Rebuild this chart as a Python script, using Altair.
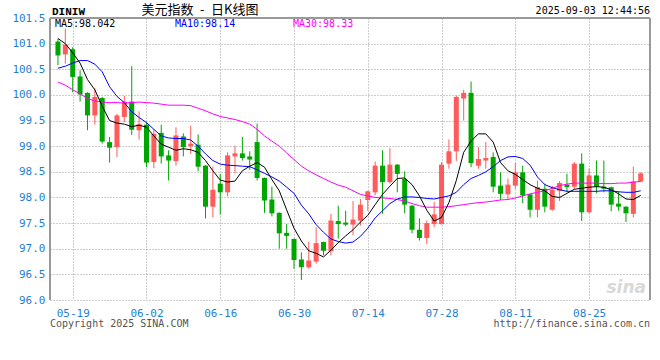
import altair as alt
import pandas as pd

# ---- data (DINIW daily, 2025-05-15 .. 2025-09-03) ----
opens = [101.04, 100.79, 100.89, 100.36, 100.04, 99.60, 99.94, 99.08, 98.98, 99.57,
         99.87, 99.31, 99.42, 98.69, 99.26, 98.82, 98.71, 99.19, 99.00, 99.03,
         98.62, 97.82, 98.27, 98.10, 98.80, 98.86, 98.80, 99.08, 98.38, 97.96,
         97.70, 97.31, 97.19, 96.79, 96.64, 96.75, 97.13, 96.95, 97.54, 97.51,
         97.47, 97.55, 97.95, 98.10, 98.62, 98.30, 98.64, 98.36, 97.84, 97.37,
         97.21, 97.48, 97.48, 98.66, 98.90, 99.93, 100.04, 98.62, 98.72, 98.79,
         98.23, 98.06, 98.23, 98.49, 98.06, 97.76, 98.17, 97.76, 98.13, 98.25,
         98.21, 98.66, 97.71, 98.43, 98.21, 98.20, 97.88, 97.82, 97.68, 98.31]
highs = [101.10, 101.29, 100.93, 100.48, 100.05, 100.13, 99.96, 99.18, 99.63, 99.98,
         100.56, 99.68, 99.47, 99.33, 99.42, 98.92, 99.37, 99.25, 99.40, 99.23,
         98.63, 98.60, 98.46, 98.88, 99.01, 99.18, 98.90, 99.44, 98.39, 98.21,
         97.71, 97.48, 97.20, 96.93, 97.14, 97.42, 97.14, 97.68, 97.84, 97.74,
         97.93, 97.97, 98.13, 98.70, 98.92, 98.96, 98.65, 98.51, 97.85, 97.59,
         97.55, 97.91, 98.69, 99.13, 99.99, 100.10, 100.26, 98.98, 99.08, 98.88,
         98.49, 98.37, 98.67, 98.62, 98.07, 98.33, 98.27, 98.23, 98.32, 98.46,
         98.69, 98.86, 98.56, 98.72, 98.72, 98.21, 98.12, 97.83, 98.60, 98.49]
lows = [100.58, 100.61, 100.05, 99.87, 99.31, 99.42, 99.05, 98.68, 98.79, 99.47,
        99.22, 99.13, 98.59, 98.57, 98.66, 98.33, 98.62, 98.80, 98.85, 98.51,
        97.59, 97.61, 97.67, 98.02, 98.47, 98.72, 98.54, 98.33, 97.70, 97.63,
        97.00, 97.00, 96.61, 96.39, 96.61, 96.71, 96.87, 96.87, 97.20, 97.44,
        97.26, 97.45, 97.74, 98.04, 97.68, 98.27, 98.10, 97.69, 97.30, 97.16,
        97.09, 97.42, 97.47, 98.56, 98.71, 99.50, 98.59, 98.56, 98.56, 98.10,
        97.95, 97.96, 98.17, 97.89, 97.61, 97.61, 97.71, 97.74, 97.93, 98.10,
        98.17, 97.54, 97.69, 98.08, 98.10, 97.73, 97.74, 97.52, 97.61, 98.30]
closes = [100.77, 100.98, 100.35, 100.01, 99.60, 99.96, 99.09, 98.97, 99.60, 99.87,
          99.32, 99.43, 98.68, 99.24, 98.80, 98.72, 99.21, 98.98, 99.05, 98.60,
          97.82, 98.15, 98.10, 98.82, 98.86, 98.77, 98.74, 98.38, 97.94, 97.69,
          97.30, 97.25, 96.78, 96.64, 96.77, 97.11, 96.96, 97.55, 97.48, 97.47,
          97.57, 97.86, 98.12, 98.62, 98.30, 98.64, 98.46, 97.86, 97.37, 97.21,
          97.50, 97.67, 98.64, 98.90, 99.96, 100.04, 98.67, 98.75, 98.77, 98.21,
          98.07, 98.25, 98.49, 98.04, 97.76, 98.20, 97.82, 98.15, 98.28, 98.20,
          98.66, 97.71, 98.43, 98.21, 98.17, 97.86, 97.82, 97.69, 98.31, 98.47]
ma5 = [101.10, 101.00, 100.82, 100.62, 100.30, 100.10, 99.78, 99.50, 99.45, 99.43,
       99.38, 99.41, 99.37, 99.20, 99.04, 98.98, 98.92, 98.95, 98.93, 98.88,
       98.72, 98.52, 98.34, 98.30, 98.32, 98.52, 98.61, 98.68, 98.59, 98.35,
       98.13, 97.76, 97.40, 97.15, 96.96, 96.91, 96.84, 96.97, 97.12, 97.25,
       97.37, 97.52, 97.65, 97.86, 98.06, 98.22, 98.37, 98.38, 98.25, 98.03,
       97.75, 97.54, 97.61, 97.90, 98.33, 98.88, 99.10, 99.24, 99.24, 99.08,
       98.68, 98.52, 98.45, 98.35, 98.25, 98.18, 98.13, 98.02, 98.00, 98.08,
       98.16, 98.18, 98.20, 98.21, 98.20, 98.15, 98.07, 97.97, 97.96, 98.04]
ma10 = [100.52, 100.56, 100.62, 100.67, 100.67, 100.60, 100.45, 100.16, 99.97, 99.85,
        99.67, 99.56, 99.46, 99.33, 99.20, 99.16, 99.15, 99.15, 99.12, 99.00,
        98.85, 98.72, 98.65, 98.63, 98.62, 98.61, 98.60, 98.54, 98.47, 98.40,
        98.32, 98.20, 98.08, 97.85, 97.68, 97.47, 97.32, 97.19, 97.14, 97.11,
        97.13, 97.24, 97.40, 97.60, 97.74, 97.88, 97.97, 98.01, 98.01, 98.00,
        97.98, 97.97, 98.00, 98.03, 98.10, 98.25, 98.37, 98.43, 98.50, 98.60,
        98.72, 98.79, 98.80, 98.76, 98.63, 98.40, 98.25, 98.19, 98.15, 98.12,
        98.12, 98.12, 98.12, 98.12, 98.13, 98.13, 98.11, 98.10, 98.10, 98.13]
ma30 = [100.25, 100.19, 100.10, 100.02, 99.93, 99.88, 99.86, 99.85, 99.85, 99.84,
        99.85, 99.86, 99.85, 99.84, 99.82, 99.80, 99.80, 99.80, 99.79, 99.74,
        99.69, 99.63, 99.58, 99.55, 99.52, 99.48, 99.43, 99.33, 99.20, 99.10,
        99.00, 98.87, 98.74, 98.61, 98.52, 98.44, 98.37, 98.30, 98.24, 98.20,
        98.13, 98.06, 98.03, 98.00, 97.99, 97.98, 97.96, 97.93, 97.88, 97.84,
        97.81, 97.81, 97.81, 97.82, 97.84, 97.86, 97.88, 97.90, 97.91, 97.93,
        97.95, 97.96, 97.99, 98.03, 98.07, 98.10, 98.13, 98.18, 98.23, 98.26,
        98.28, 98.28, 98.28, 98.28, 98.27, 98.27, 98.28, 98.28, 98.30, 98.31]

tick_idx = [2, 12, 22, 32, 42, 52, 62, 72]
tick_labels = ["05-19", "06-02", "06-16", "06-30", "07-14", "07-28", "08-11", "08-25"]
y_ticks = [96.0, 96.5, 97.0, 97.5, 98.0, 98.5, 99.0, 99.5, 100.0, 100.5, 101.0, 101.5]

df = pd.DataFrame({
    "i": list(range(len(closes))),
    "open": opens, "high": highs, "low": lows, "close": closes,
    "ma5": ma5, "ma10": ma10, "ma30": ma30,
})

W, H = 600, 282
BLUE = "#1f7fd2"
RED = "#ff5b5b"
GREEN = "#00a600"
MONO = "DejaVu Sans Mono"

label_expr = "[" + ",".join(f"'{t}'" for t in tick_labels) + "][indexof([" + \
    ",".join(str(t) for t in tick_idx) + "], datum.value)]"

xs = alt.Scale(domain=[-0.4, 79.58], nice=False, zero=False)
ys = alt.Scale(domain=[96.0, 101.5], nice=False, zero=False)

x_enc = alt.X("i:Q", scale=xs, axis=alt.Axis(
    values=tick_idx, labelExpr=label_expr, grid=True, gridDash=[1, 2],
    gridColor="#9a9a9a", gridOpacity=1, domain=False, ticks=False, title=None,
    labelColor=BLUE, labelFont=MONO, labelFontSize=11, labelPadding=7,
    labelBound=False, labelOverlap=False))

def y_enc(field):
    return alt.Y(f"{field}:Q", scale=ys, axis=alt.Axis(
        values=y_ticks, format=".1f", grid=True, gridDash=[1, 2],
        gridColor="#9a9a9a", gridOpacity=1, domain=False, ticks=False, title=None,
        labelColor=BLUE, labelFont=MONO, labelFontSize=11, labelPadding=5,
        labelOverlap=False))

base = alt.Chart(df).transform_calculate(
    dir="datum.close >= datum.open ? 'up' : 'down'")
col = alt.Color("dir:N", scale=alt.Scale(domain=["up", "down"], range=[RED, GREEN]),
                legend=None)

wicks = base.mark_rule(strokeWidth=1).encode(
    x=x_enc, y=y_enc("low"), y2="high:Q", color=col)
bodies = base.mark_bar(size=5).encode(
    x=x_enc, y=y_enc("open"), y2="close:Q", color=col)

line5 = alt.Chart(df).mark_line(color="#000000", strokeWidth=1).encode(x=x_enc, y=y_enc("ma5"))
line10 = alt.Chart(df).mark_line(color="#0000ff", strokeWidth=1).encode(x=x_enc, y=y_enc("ma10"))
line30 = alt.Chart(df).mark_line(color="#ff00ff", strokeWidth=1).encode(x=x_enc, y=y_enc("ma30"))

frame_left = alt.Chart(df).mark_rule(color="#999999").encode(
    x=alt.value(0), y=alt.value(0), y2=alt.value(H))
frame_right = alt.Chart(df).mark_rule(color="#999999").encode(
    x=alt.value(W), y=alt.value(0), y2=alt.value(H))
frame_top = alt.Chart(df).mark_rule(color="#999999").encode(
    x=alt.value(0), x2=alt.value(W), y=alt.value(0))

def label(text, x, y, color="#000000", size=10, align="left", font=MONO,
          weight="normal", style="normal"):
    return alt.Chart(pd.DataFrame({"t": [text]})).mark_text(
        align=align, baseline="middle", fontSize=size, font=font, color=color,
        fontWeight=weight, fontStyle=style).encode(
        text="t:N", x=alt.value(x), y=alt.value(y))

texts = [
    label("DINIW", 2, -6, size=11, font="Liberation Mono", weight="bold"),
    label("美元指数\u2002-\u2002日K线图", 150, -8, size=13, align="center",
          font="Noto Sans CJK SC"),
    label("2025-09-03 12:44:56", W, -7, size=10, align="right"),
    label("MA5:98.042", 5, 6, color="#000000", size=10),
    label("MA10:98.14", 125, 6, color="#0000ff", size=10),
    label("MA30:98.33", 243, 6, color="#ff00ff", size=10),
    label("Copyright 2025 SINA.COM", 0, 306, color="#555555", size=10),
    label("http://finance.sina.com.cn", W, 306, color="#555555", size=10, align="right"),
    label("sina", 596, 270, color="#d8d8d8", size=17, align="right",
          font="DejaVu Sans", weight="bold", style="italic"),
]

chart = alt.layer(
    wicks, bodies, line30, line10, line5,
    frame_left, frame_right, frame_top, *texts
).properties(
    width=W, height=H,
    padding={"left": 50, "top": 18, "right": 10, "bottom": 60},
    autosize=alt.AutoSizeParams(type="none"),
    background="#ffffff",
).configure_view(stroke=None)

chart.save("out.html", embed_options={"renderer": "svg", "actions": False})
